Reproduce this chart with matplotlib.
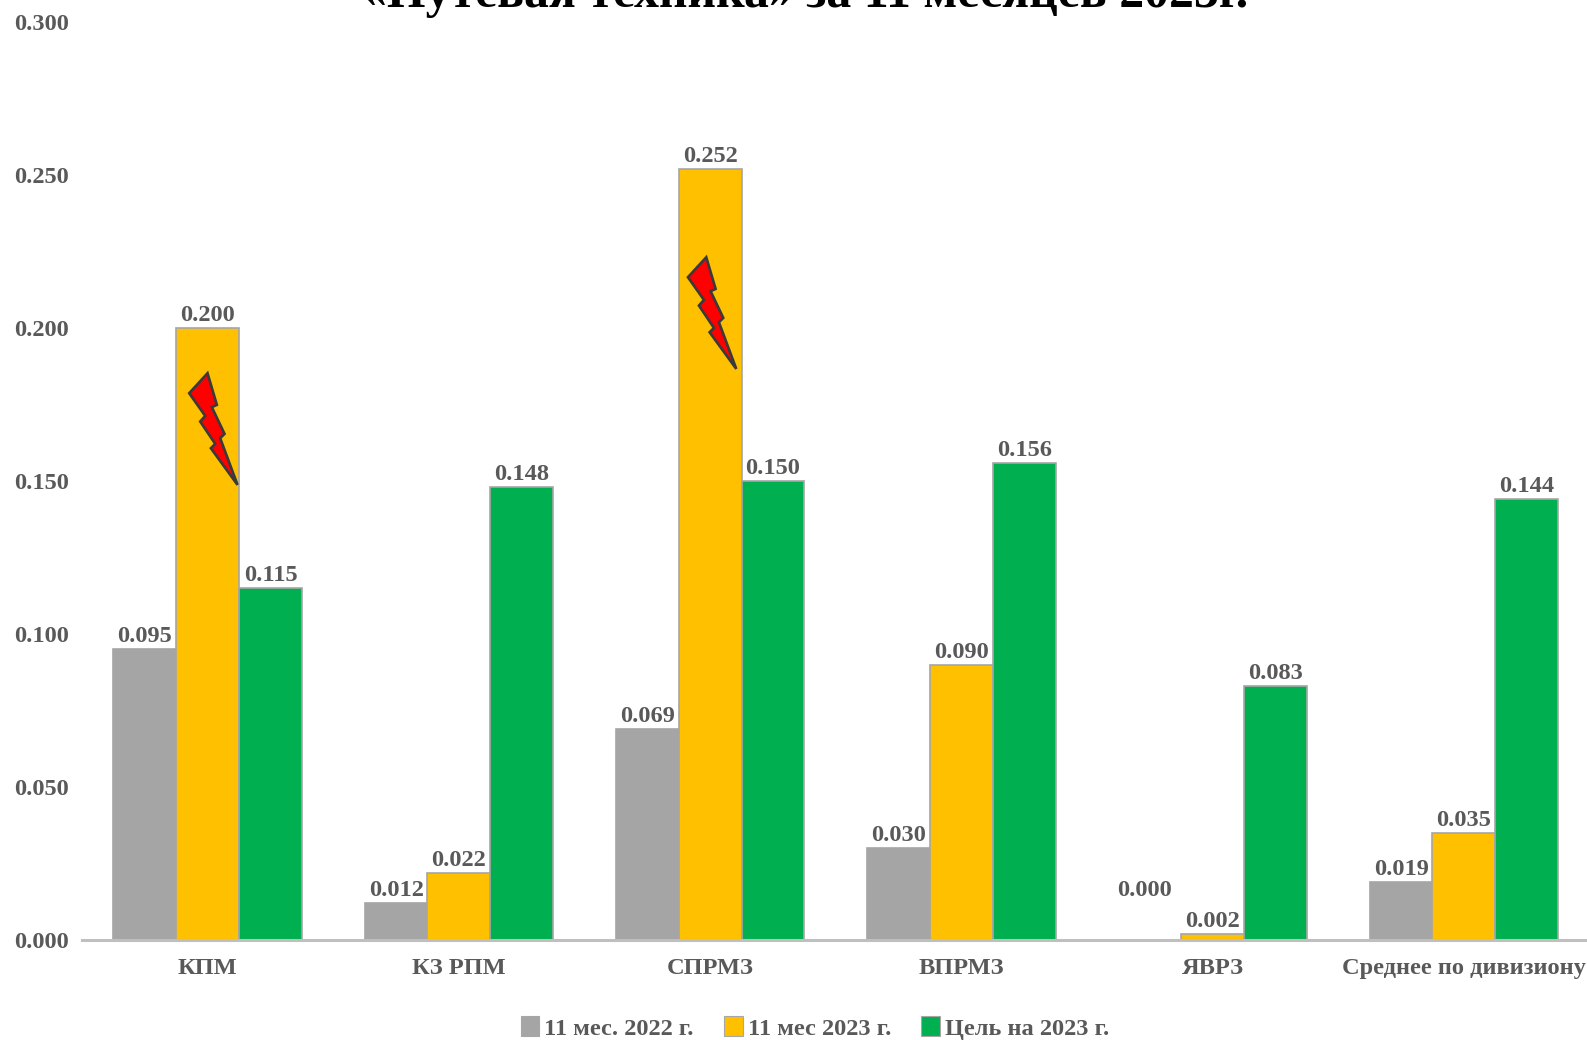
import matplotlib
matplotlib.use("Agg")
import matplotlib.pyplot as plt
import numpy as np
from matplotlib.patches import Polygon, Patch
from matplotlib.transforms import Affine2D

categories = ["КПМ", "КЗ РПМ", "СПРМЗ", "ВПРМЗ", "ЯВРЗ", "Среднее по дивизиону"]
series_names = ["11 мес. 2022 г.", "11 мес 2023 г.", "Цель на 2023 г."]
values_2022 = [0.095, 0.012, 0.069, 0.030, 0.000, 0.019]
values_2023 = [0.200, 0.022, 0.252, 0.090, 0.002, 0.035]
values_goal = [0.115, 0.148, 0.150, 0.156, 0.083, 0.144]
colors = ["#a5a5a5", "#ffc000", "#00b050"]
y_ticks = [0.0, 0.05, 0.10, 0.15, 0.20, 0.25, 0.30]
title_text = "«Путевая техника» за 11 месяцев 2023г."
alert_anchors = [(0.02, 0.1686), (2.005, 0.2065)]

W, H = 1587, 1040
plt.rcParams["font.family"] = ["Liberation Serif", "DejaVu Serif"]
plt.rcParams["font.weight"] = "bold"
fig = plt.figure(figsize=(W / 100, H / 100), dpi=100)
top, bottom = 22, 940
left, right = 82, 1587
ax = fig.add_axes([left / W, 1 - bottom / H, (right - left) / W, (bottom - top) / H])
ax.set_xlim(-0.5, 5.49)
ax.set_ylim(0, 0.30)
ax.patch.set_alpha(0)

x = np.arange(len(categories))
bw = 0.25
text_c = "#595959"
fs = 17.6
for i, (vals, c) in enumerate(zip([values_2022, values_2023, values_goal], colors)):
    bars = ax.bar(x + (i - 1) * bw, vals, bw, color=c, edgecolor="#a6a6a6", linewidth=1.2, zorder=2)
    for b, v in zip(bars, vals):
        off = (-4, 28) if v == 0 else (0, 1.5)
        ax.annotate(f"{v:.3f}", (b.get_x() + b.get_width() / 2, v), xytext=off,
                    textcoords="offset points", ha="center", va="bottom",
                    fontsize=fs, color=text_c, fontweight="bold", clip_on=False)

for s in ["top", "right", "left"]:
    ax.spines[s].set_visible(False)
ax.spines["bottom"].set_color("#bfbfbf")
ax.spines["bottom"].set_linewidth(2.2)
ax.set_yticks(y_ticks)
ax.set_yticklabels([f"{t:.3f}" for t in y_ticks], fontsize=fs, color=text_c, fontweight="bold")
ax.tick_params(axis="y", length=0, pad=9.4)
ax.set_xticks(x)
ax.set_xticklabels(categories, fontsize=fs, color=text_c, fontweight="bold")
ax.tick_params(axis="x", length=0, pad=13)

# lightning bolt outline, in pixels relative to its anchor
bolt = np.array([[352, 250], [297, 310], [345, 378], [330, 395], [375, 462], [362, 475],
                 [442, 585], [390, 445], [403, 432], [365, 352], [380, 345]], float)
bolt = (bolt - bolt.mean(axis=0)) / 3.0
bolt[:, 1] *= -1
for cx, cy in alert_anchors:
    px = ax.transData.transform((cx, cy))
    tr = Affine2D().translate(*px)
    ax.add_patch(Polygon(bolt, closed=True, facecolor="#ff0000", edgecolor="#3a3a3a",
                         linewidth=1.9, transform=tr, zorder=5, clip_on=False))

fig.text(0.507, 1 - 7 / H, title_text, ha="center", va="baseline", fontsize=35.8,
         fontweight="bold", color="black", family=["Liberation Serif"])

handles = [Patch(facecolor=c, edgecolor="#a6a6a6", linewidth=0.8) for c in colors]
leg = fig.legend(handles, series_names, loc="center", bbox_to_anchor=(815 / W, 1 - 1028 / H), ncol=3,
                 frameon=False, fontsize=fs, handlelength=0.75, handleheight=0.85, handletextpad=0.2,
                 columnspacing=1.25, borderpad=0, labelcolor=text_c)
fig.savefig("out.png", dpi=100, facecolor="white")
